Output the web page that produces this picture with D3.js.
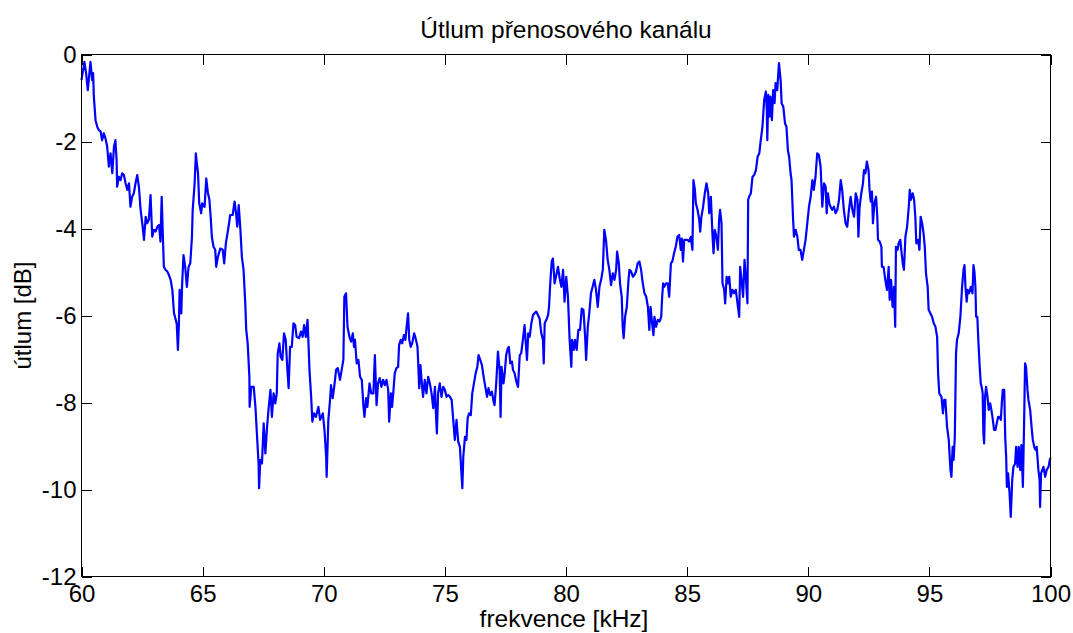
<!DOCTYPE html>
<html><head><meta charset="utf-8">
<script src="https://cdn.jsdelivr.net/npm/d3@7"></script>
<style>
html,body{margin:0;padding:0;background:#fff;}
svg text{font-family:"Liberation Sans",Arial,Helvetica,sans-serif;fill:#000;}
</style></head>
<body>
<svg id="chart" width="1073" height="633"></svg>
<script>
const titleText = "Útlum přenosového kanálu";
const xLabel = "frekvence [kHz]";
const yLabel = "útlum [dB]";
const xTicks = [60,65,70,75,80,85,90,95,100];
const yTicks = [-12,-10,-8,-6,-4,-2,0];

// [frequency kHz, attenuation dB]
const band60 = [[60.00,-0.59],[60.12,-0.17],[60.19,-0.43],[60.26,-0.82],[60.32,-0.47],[60.37,-0.17],[60.44,-0.59],[60.48,-0.43],[60.51,-0.97],[60.58,-1.51],[60.65,-1.66],[60.72,-1.74],[60.79,-1.77],[60.85,-1.97],[60.92,-1.81],[60.99,-1.93],[61.06,-2.12],[61.13,-2.58],[61.20,-2.27],[61.27,-2.73],[61.34,-2.12],[61.40,-1.97],[61.45,-2.43],[61.47,-3.04],[61.54,-2.81],[61.61,-2.89],[61.68,-2.73],[61.75,-2.77],[61.82,-2.96],[61.89,-3.11],[61.96,-2.96],[62.02,-3.50],[62.09,-3.27],[62.16,-3.19],[62.23,-2.96],[62.30,-2.77],[62.37,-3.04],[62.44,-3.57],[62.51,-3.88],[62.58,-4.26],[62.65,-3.73],[62.71,-3.88],[62.78,-3.80],[62.85,-3.23],[62.92,-4.19],[62.99,-4.03],[63.06,-4.07],[63.13,-3.96],[63.20,-3.92],[63.26,-4.30],[63.31,-3.27],[63.36,-4.19],[63.40,-4.88],[63.47,-4.95],[63.54,-4.99],[63.61,-5.07],[63.68,-5.18],[63.75,-5.41],[63.82,-5.95],[63.89,-6.10],[63.93,-6.18],[63.98,-6.79],[64.02,-6.20]];
const band64 = [[64.05,-5.41],[64.12,-5.95],[64.15,-5.34],[64.21,-4.61],[64.28,-4.88],[64.35,-5.34],[64.42,-4.88],[64.49,-4.80],[64.56,-4.19],[64.59,-3.57],[64.63,-3.27],[64.67,-2.96],[64.72,-2.27],[64.76,-2.50],[64.81,-2.73],[64.86,-3.42],[64.94,-3.65],[64.98,-3.42],[65.08,-3.50],[65.15,-2.85],[65.22,-3.19],[65.28,-3.34],[65.34,-3.80],[65.38,-4.19],[65.45,-4.42],[65.52,-4.49],[65.56,-4.88],[65.63,-4.65],[65.73,-4.46],[65.83,-4.49],[65.89,-4.80],[65.96,-4.34],[66.05,-4.03],[66.14,-3.69],[66.24,-3.69],[66.32,-3.38],[66.38,-3.65],[66.43,-3.96],[66.49,-3.46],[66.56,-4.03],[66.62,-4.65],[66.69,-4.95],[66.76,-5.72],[66.80,-6.33],[66.86,-6.64],[66.93,-7.41],[66.94,-8.10],[67.01,-7.64],[67.11,-7.64],[67.18,-8.10],[67.24,-8.71],[67.31,-9.40],[67.33,-9.97],[67.38,-9.32],[67.45,-9.40],[67.52,-8.48],[67.59,-9.17],[67.66,-8.56],[67.73,-8.10],[67.80,-7.71],[67.86,-8.33],[67.93,-7.79],[68.00,-8.02]];
const band68 = [[68.06,-7.79],[68.10,-6.87],[68.17,-6.64],[68.22,-6.95],[68.29,-7.02],[68.36,-6.41],[68.43,-6.56],[68.50,-7.25],[68.55,-7.67],[68.61,-6.72],[68.68,-6.72],[68.75,-6.18],[68.82,-6.22],[68.88,-6.49],[68.98,-6.52],[69.06,-6.37],[69.13,-6.49],[69.19,-6.22],[69.26,-6.49],[69.33,-6.10],[69.37,-6.64],[69.41,-7.25],[69.48,-7.87],[69.53,-8.44],[69.60,-8.25],[69.68,-8.33],[69.78,-8.10],[69.85,-8.40],[69.96,-8.25],[70.03,-8.63],[70.10,-9.25],[70.12,-9.71],[70.19,-8.40],[70.26,-7.94],[70.30,-7.60],[70.37,-7.90],[70.44,-7.60],[70.51,-7.25],[70.58,-7.21],[70.67,-7.48],[70.74,-7.25],[70.81,-7.02],[70.85,-5.57],[70.92,-5.49],[70.98,-6.26],[71.06,-6.49],[71.13,-6.60],[71.20,-6.41],[71.25,-6.72],[71.29,-6.56],[71.36,-7.10],[71.43,-7.02],[71.50,-7.41],[71.57,-7.48],[71.64,-8.10],[71.68,-8.33],[71.75,-7.90],[71.80,-8.10],[71.89,-7.56],[71.96,-7.79],[72.05,-7.79]];
const band72 = [[72.11,-6.91],[72.18,-8.06],[72.24,-7.56],[72.31,-7.44],[72.38,-7.64],[72.45,-7.48],[72.52,-7.60],[72.59,-7.48],[72.66,-7.71],[72.70,-8.44],[72.77,-7.79],[72.82,-8.10],[72.88,-7.71],[72.93,-7.33],[73.00,-7.21],[73.07,-7.18],[73.11,-6.68],[73.18,-6.56],[73.24,-6.64],[73.31,-6.45],[73.37,-6.56],[73.42,-6.26],[73.48,-5.95],[73.53,-6.56],[73.59,-6.72],[73.65,-6.64],[73.73,-6.41],[73.79,-6.52],[73.87,-6.72],[73.90,-7.10],[73.94,-7.67],[73.99,-7.14],[74.06,-7.64],[74.10,-7.87],[74.17,-7.48],[74.24,-7.79],[74.31,-7.41],[74.38,-7.56],[74.45,-7.79],[74.52,-8.13],[74.59,-7.64],[74.63,-8.25],[74.67,-8.71],[74.72,-7.79],[74.79,-7.56],[74.86,-7.87],[74.93,-7.64],[75.00,-7.71],[75.07,-7.87],[75.14,-7.83],[75.21,-7.87],[75.28,-7.94],[75.34,-8.36],[75.41,-8.86],[75.48,-8.40],[75.55,-8.90],[75.62,-9.02],[75.66,-9.40],[75.72,-9.97],[75.76,-9.25],[75.83,-8.79],[75.89,-8.86],[75.94,-8.36],[76.00,-8.25],[76.07,-8.29],[76.13,-7.79]];
const band76 = [[76.20,-7.56],[76.27,-7.33],[76.34,-7.18],[76.39,-6.91],[76.46,-7.02],[76.53,-7.14],[76.60,-7.41],[76.67,-7.64],[76.74,-7.87],[76.80,-7.67],[76.87,-7.83],[76.94,-7.75],[77.01,-7.98],[77.05,-8.06],[77.12,-7.56],[77.19,-6.83],[77.26,-7.25],[77.30,-8.33],[77.34,-7.18],[77.42,-7.56],[77.47,-7.33],[77.53,-6.91],[77.60,-6.75],[77.64,-6.72],[77.70,-7.10],[77.77,-7.06],[77.81,-7.25],[77.88,-7.33],[77.95,-7.52],[78.02,-7.64],[78.09,-6.91],[78.15,-6.87],[78.22,-6.56],[78.29,-6.22],[78.33,-6.56],[78.39,-7.02],[78.44,-6.41],[78.50,-6.49],[78.57,-6.18],[78.64,-5.99],[78.70,-5.95],[78.77,-5.91],[78.84,-5.99],[78.91,-6.07],[78.98,-6.41],[79.05,-6.56],[79.08,-7.10],[79.12,-6.18],[79.19,-6.10],[79.26,-5.99],[79.30,-5.80],[79.35,-5.26],[79.41,-4.76],[79.46,-4.69],[79.53,-5.26],[79.60,-5.07],[79.67,-4.88],[79.74,-5.15],[79.81,-5.34],[79.88,-4.95],[79.94,-5.68],[80.01,-5.11],[80.08,-5.57],[80.15,-6.56],[80.22,-7.18]];
const band80 = [[80.25,-6.56],[80.32,-6.79],[80.37,-6.56],[80.44,-6.79],[80.51,-6.33],[80.58,-6.33],[80.65,-5.84],[80.72,-5.87],[80.79,-6.49],[80.83,-7.02],[80.90,-6.26],[80.96,-5.95],[81.03,-5.49],[81.10,-5.34],[81.17,-5.18],[81.24,-5.41],[81.31,-5.80],[81.38,-5.34],[81.45,-5.18],[81.52,-4.95],[81.58,-4.03],[81.65,-4.26],[81.72,-4.72],[81.79,-4.95],[81.86,-5.30],[81.93,-5.03],[82.00,-5.18],[82.07,-4.95],[82.11,-4.53],[82.18,-4.80],[82.23,-5.26],[82.30,-5.57],[82.34,-6.26],[82.38,-6.52],[82.44,-6.03],[82.51,-5.80],[82.58,-5.18],[82.62,-4.95],[82.69,-4.99],[82.76,-5.11],[82.82,-5.07],[82.89,-4.99],[82.96,-4.80],[83.03,-4.76],[83.10,-4.95],[83.17,-5.26],[83.24,-5.49],[83.31,-5.57],[83.38,-5.80],[83.44,-6.33],[83.49,-5.80],[83.54,-6.10],[83.61,-6.45],[83.65,-6.03],[83.72,-6.26],[83.79,-6.10],[83.86,-6.14],[83.93,-6.03],[83.97,-5.57],[84.01,-5.26],[84.06,-5.34],[84.13,-5.26],[84.20,-5.26]];
const band84 = [[84.26,-5.57],[84.33,-4.80],[84.39,-4.76],[84.46,-4.57],[84.53,-4.42],[84.60,-4.19],[84.67,-4.15],[84.74,-4.49],[84.78,-4.23],[84.83,-4.76],[84.88,-4.26],[84.94,-4.26],[85.01,-4.26],[85.08,-4.30],[85.15,-4.19],[85.22,-4.49],[85.26,-2.89],[85.32,-3.11],[85.36,-3.42],[85.43,-3.57],[85.50,-3.80],[85.54,-4.07],[85.59,-3.73],[85.66,-3.50],[85.73,-3.19],[85.80,-2.96],[85.87,-3.19],[85.91,-3.65],[85.98,-3.27],[86.05,-4.19],[86.09,-4.57],[86.14,-4.03],[86.21,-4.19],[86.27,-4.49],[86.32,-3.80],[86.36,-3.57],[86.42,-3.88],[86.46,-5.26],[86.53,-5.41],[86.57,-5.72],[86.63,-5.11],[86.69,-5.26],[86.74,-5.11],[86.80,-5.57],[86.87,-5.41],[86.94,-5.49],[87.01,-5.41],[87.08,-5.72],[87.15,-6.03],[87.19,-4.88],[87.26,-5.26],[87.31,-5.57],[87.37,-4.72],[87.42,-5.11],[87.49,-5.72],[87.52,-3.34],[87.56,-3.27],[87.63,-3.19],[87.70,-2.81],[87.77,-2.77],[87.84,-2.66],[87.91,-2.35],[87.98,-2.27],[88.04,-1.97],[88.11,-1.66],[88.18,-1.05],[88.25,-0.85],[88.29,-1.28]];
const band88 = [[88.31,-1.97],[88.35,-0.93],[88.40,-1.43],[88.44,-0.97],[88.50,-1.51],[88.55,-0.82],[88.61,-1.12],[88.65,-0.66],[88.72,-0.82],[88.79,-0.20],[88.86,-0.59],[88.90,-1.12],[88.97,-1.20],[89.04,-1.58],[89.10,-1.66],[89.16,-2.20],[89.21,-2.35],[89.27,-2.73],[89.31,-2.89],[89.37,-3.73],[89.41,-4.19],[89.48,-4.03],[89.55,-4.19],[89.61,-4.49],[89.68,-4.49],[89.75,-4.72],[89.82,-4.49],[89.89,-4.26],[89.96,-3.88],[90.03,-3.50],[90.10,-3.27],[90.17,-2.89],[90.23,-3.11],[90.30,-2.81],[90.37,-2.27],[90.44,-2.31],[90.51,-2.58],[90.55,-3.11],[90.58,-3.50],[90.65,-2.96],[90.72,-3.04],[90.76,-3.65],[90.81,-3.19],[90.87,-3.42],[90.92,-3.50],[90.99,-3.57],[91.06,-3.50],[91.13,-3.65],[91.20,-3.57],[91.27,-3.34],[91.34,-2.89],[91.40,-3.11],[91.47,-3.57],[91.54,-3.88],[91.61,-3.96],[91.68,-3.57],[91.75,-3.27],[91.82,-3.57],[91.89,-3.73],[91.96,-3.19],[92.03,-3.34],[92.07,-4.19],[92.12,-3.50],[92.19,-3.19],[92.26,-2.96],[92.30,-2.66]];
const band92 = [[92.36,-2.73],[92.42,-2.46],[92.49,-2.66],[92.53,-3.11],[92.58,-3.38],[92.63,-3.15],[92.67,-3.88],[92.73,-3.42],[92.80,-3.27],[92.85,-3.73],[92.88,-4.26],[92.95,-4.30],[93.02,-4.42],[93.04,-4.88],[93.11,-4.88],[93.18,-5.18],[93.25,-5.41],[93.32,-4.88],[93.36,-5.64],[93.42,-5.18],[93.48,-5.80],[93.54,-5.34],[93.59,-6.26],[93.62,-4.42],[93.69,-4.49],[93.73,-4.34],[93.80,-4.26],[93.84,-4.49],[93.90,-4.80],[93.95,-4.95],[94.01,-4.19],[94.08,-3.96],[94.15,-3.50],[94.19,-3.11],[94.24,-3.34],[94.31,-3.19],[94.37,-3.34],[94.42,-3.73],[94.46,-4.34],[94.53,-4.26],[94.59,-4.49],[94.64,-3.73],[94.70,-3.88],[94.76,-4.11],[94.81,-4.42],[94.86,-5.03],[94.93,-5.34],[94.97,-5.87],[95.04,-5.95],[95.11,-6.03],[95.18,-6.18],[95.25,-6.26],[95.32,-6.49],[95.36,-7.33],[95.41,-7.79],[95.50,-7.87],[95.56,-8.25],[95.61,-7.94],[95.66,-7.94],[95.73,-8.56],[95.80,-8.86],[95.87,-9.55],[95.91,-9.71],[95.96,-9.02],[96.00,-9.32],[96.05,-8.79],[96.10,-6.87],[96.14,-6.56],[96.21,-6.41],[96.28,-6.03],[96.35,-5.34]];
const band96 = [[96.41,-4.95],[96.45,-4.84],[96.49,-5.34],[96.54,-5.68],[96.58,-5.41],[96.64,-5.49],[96.71,-5.34],[96.78,-5.49],[96.82,-4.84],[96.86,-4.99],[96.90,-5.34],[96.93,-6.03],[96.98,-6.03],[97.02,-6.56],[97.07,-7.10],[97.12,-7.56],[97.16,-7.64],[97.20,-7.79],[97.23,-8.71],[97.26,-8.94],[97.30,-7.87],[97.34,-7.64],[97.40,-7.87],[97.45,-8.17],[97.51,-8.02],[97.56,-8.17],[97.62,-8.40],[97.67,-8.63],[97.73,-8.63],[97.78,-8.48],[97.84,-8.33],[97.89,-8.33],[97.95,-8.40],[97.99,-8.02],[98.03,-7.71],[98.09,-7.71],[98.13,-8.79],[98.17,-9.25],[98.20,-9.94],[98.25,-9.63],[98.31,-10.09],[98.36,-10.63],[98.42,-9.78],[98.47,-9.48],[98.54,-9.40],[98.58,-9.02],[98.64,-9.48],[98.69,-9.02],[98.75,-9.55],[98.80,-8.98],[98.86,-9.94],[98.91,-8.48],[98.95,-7.10],[98.99,-7.18],[99.05,-7.71],[99.09,-7.94],[99.16,-8.17],[99.23,-8.63],[99.27,-8.86],[99.33,-9.02],[99.38,-9.09],[99.43,-9.02],[99.50,-9.55],[99.55,-9.78],[99.57,-10.40],[99.61,-9.63],[99.66,-9.55],[99.71,-9.48],[99.78,-9.71],[99.84,-9.55],[99.92,-9.48],[99.97,-9.32],[100.00,-9.27]];

const series = [].concat(band60, band64, band68, band72, band76, band80, band84, band88, band92, band96);

const svg = d3.select("#chart");
const FS = 24;
const x = d3.scaleLinear().domain([60,100]).range([81.5,1050.5]);
const y = d3.scaleLinear().domain([-12,0]).range([576.5,54.5]);
const plain = d => String(d); // hyphen-minus like the original

// curve
svg.append("path")
  .datum(series)
  .attr("fill","none")
  .attr("stroke","#0000ff")
  .attr("stroke-width",2.2)
  .attr("stroke-linejoin","round")
  .attr("d", d3.line().x(d=>x(d[0])).y(d=>y(d[1])));

function styleAxis(g){
  g.select(".domain").remove();
  g.selectAll(".tick line").attr("stroke","#000").attr("shape-rendering","crispEdges");
  g.selectAll("text").attr("font-size",FS).attr("fill","#000")
    .style("font-family",'"Liberation Sans",Arial,sans-serif');
}

svg.append("g").attr("transform",`translate(0,${y(-12)})`)
  .call(d3.axisBottom(x).tickValues(xTicks).tickSize(-10).tickPadding(8).tickFormat(plain))
  .call(styleAxis);
svg.append("g").attr("transform",`translate(0,${y(0)})`)
  .call(d3.axisTop(x).tickValues(xTicks).tickSize(-10).tickFormat(""))
  .call(styleAxis);
svg.append("g").attr("transform",`translate(${x(60)},0)`)
  .call(d3.axisLeft(y).tickValues(yTicks).tickSize(-10).tickPadding(5).tickFormat(plain))
  .call(styleAxis);
svg.append("g").attr("transform",`translate(${x(100)},0)`)
  .call(d3.axisRight(y).tickValues(yTicks).tickSize(-10).tickFormat(""))
  .call(styleAxis);

// box
svg.append("rect")
  .attr("x",x(60)).attr("y",y(0))
  .attr("width",x(100)-x(60)).attr("height",y(-12)-y(0))
  .attr("fill","none").attr("stroke","#000").attr("stroke-width",1)
  .attr("shape-rendering","crispEdges");

// title & labels
svg.append("text").attr("x",(x(60)+x(100))/2).attr("y",38)
  .attr("text-anchor","middle").attr("font-size",FS+0.5).text(titleText);
svg.append("text").attr("x",(x(60)+x(100))/2 - 2).attr("y",627)
  .attr("text-anchor","middle").attr("font-size",FS+0.5).text(xLabel);
svg.append("text").attr("transform",`translate(31,${(y(0)+y(-12))/2}) rotate(-90)`)
  .attr("text-anchor","middle").attr("font-size",FS).text(yLabel);
</script>
</body></html>
